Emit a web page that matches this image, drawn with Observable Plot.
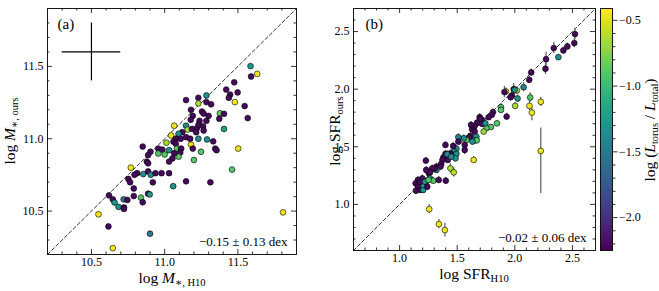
<!DOCTYPE html>
<html><head><meta charset="utf-8">
<script src="https://cdn.jsdelivr.net/npm/d3@7"></script>
<script src="https://cdn.jsdelivr.net/npm/@observablehq/plot@0.6"></script>
<style>
body{margin:0;background:#fff;}
#wrap{position:relative;width:659px;height:291px;font-family:"Liberation Serif","DejaVu Serif",serif;}
#wrap svg{position:absolute;top:0;overflow:visible;font-family:"Liberation Serif","DejaVu Serif",serif !important;}
#wrap svg text{font-family:"Liberation Serif","DejaVu Serif",serif !important;}
</style></head><body><div id="wrap"></div>
<script>
// ---------- data ----------
// panel (a): log M*,H10 vs log M*,ours, colour = log(Ltorus/Ltotal)
const aX = [11.586,11.632,11.59,11.475,11.498,11.42,11.447,11.438,11.285,11.23,11.146,11.23,11.285,11.317,11.479,11.546,11.567,11.18,11.255,11.266,11.377,11.405,11.373,11.192,11.3,11.178,11.238,11.285,11.405,11.065,11.146,11.157,11.187,11.22,11.231,11.262,11.266,11.215,11.12,11.095,11.044,11.076,11.109,11.012,11.06,11.146,11.174,11.23,11.289,11.331,11.345,11.354,11.502,10.85,10.956,10.984,10.956,11.0,11.03,11.076,11.083,11.113,11.106,11.095,11.18,11.192,11.248,11.2,11.053,11.065,10.903,10.887,10.878,10.887,11.03,10.769,10.812,10.794,10.854,10.887,10.905,10.937,10.979,11.03,10.919,10.752,10.764,11.058,11.146,11.312,11.46,10.789,10.887,10.898,10.62,10.646,10.658,10.685,10.72,10.745,10.722,10.722,10.789,10.838,10.85,10.548,10.616,10.9,10.646,11.808];
const aY = [11.502,11.448,11.43,11.39,11.32,11.34,11.305,11.283,11.299,11.283,11.267,11.244,11.253,11.238,11.253,11.226,11.143,11.2,11.188,11.174,11.176,11.172,11.138,11.158,11.158,11.131,11.124,11.124,11.068,11.09,11.09,11.063,11.068,11.072,11.097,11.086,11.057,11.045,11.045,11.034,11.023,11.0,11.0,10.973,10.98,11.011,11.0,11.0,10.995,10.982,10.932,10.921,10.932,10.946,10.932,10.925,10.898,10.891,10.921,10.966,10.932,10.932,10.905,10.876,10.959,10.932,10.91,10.853,10.864,10.9,10.91,10.887,10.842,10.83,10.842,10.8,10.762,10.751,10.756,10.774,10.751,10.762,10.762,10.762,10.699,10.722,10.699,10.672,10.706,10.699,10.787,10.656,10.62,10.615,10.609,10.581,10.559,10.529,10.581,10.577,10.525,10.515,10.604,10.593,10.561,10.478,10.394,10.344,10.244,10.491];
const aC = [-1.3,-0.45,-2.2,-2.2,-2.2,-2.2,-2.2,-2.2,-1.35,-2.2,-2.2,-0.65,-2.2,-2.2,-0.45,-2.2,-2.2,-2.2,-2.2,-2.2,-0.85,-2.2,-2.2,-2.2,-2.2,-2.2,-2.2,-2.2,-1.2,-0.45,-1.35,-0.65,-2.2,-2.2,-2.2,-2.2,-2.2,-2.2,-2.2,-1.35,-0.45,-2.2,-2.2,-0.65,-2.2,-2.2,-2.2,-1.35,-1.35,-2.2,-2.2,-2.2,-0.45,-2.2,-2.2,-2.2,-0.9,-0.9,-1.35,-2.2,-0.9,-2.2,-2.2,-0.9,-0.45,-2.2,-0.9,-0.9,-2.2,-2.2,-2.2,-2.2,-2.2,-2.2,-2.2,-0.45,-2.2,-2.2,-1.35,-2.2,-1.35,-2.2,-2.2,-2.2,-2.2,-2.2,-2.2,-1.3,-2.2,-2.2,-0.9,-2.2,-2.2,-1.3,-2.2,-2.2,-1.3,-1.35,-1.5,-2.2,-2.2,-2.2,-2.2,-0.9,-2.2,-0.45,-2.2,-1.5,-0.45,-0.45];
// representative error cross of panel (a)
const crossA = [{x: 10.5, y: 11.6, e: 0.2}];

// panel (b): log SFR_H10 vs log SFR_ours with errors
const bX = [2.522,2.516,2.456,2.421,2.338,2.378,2.271,2.266,2.142,2.125,2.076,1.99,1.923,1.91,2.018,1.998,2.024,1.975,1.963,2.133,2.225,2.003,2.127,2.148,1.929,1.88,1.88,1.81,1.80,1.845,1.793,1.753,1.73,1.715,1.695,1.672,1.715,1.744,1.649,1.629,1.652,1.614,1.6,1.666,1.58,1.557,1.51,1.51,1.649,1.67,1.632,1.565,1.565,1.493,1.398,1.465,1.47,1.493,1.485,1.441,1.427,1.398,1.381,1.418,1.413,1.447,1.372,1.361,1.32,1.355,1.32,1.305,1.283,1.254,1.231,1.228,1.265,1.263,1.292,1.34,1.234,1.197,1.159,1.139,1.159,1.142,1.182,1.205,1.205,1.176,1.22,1.24,1.251,1.401,1.441,1.47,1.643,1.257,1.341,1.393,2.225,1.773,1.70,1.62];
const bY = [2.478,2.40,2.371,2.336,2.357,2.278,2.26,2.177,2.145,2.081,2.017,2.0,1.98,1.975,1.988,1.994,1.919,1.945,1.93,1.928,1.89,1.855,1.855,1.797,1.762,1.843,1.82,1.8,1.777,1.704,1.672,1.661,1.632,1.733,1.757,1.71,1.699,1.704,1.675,1.652,1.632,1.594,1.58,1.588,1.559,1.574,1.583,1.545,1.554,1.556,1.545,1.516,1.472,1.484,1.516,1.507,1.458,1.438,1.4,1.443,1.414,1.438,1.409,1.386,1.435,1.414,1.386,1.351,1.328,1.328,1.299,1.31,1.313,1.27,1.299,1.38,1.28,1.226,1.206,1.212,1.203,1.226,1.212,1.183,1.154,1.119,1.125,1.125,1.168,1.194,1.197,1.154,1.212,1.206,1.313,1.278,1.386,0.959,0.829,0.777,1.464,1.757,1.745,1.69];
const bC = [-2.2,-2.2,-2.2,-2.2,-2.2,-1.35,-2.2,-2.2,-2.2,-2.2,-1.45,-2.2,-0.45,-2.2,-0.65,-1.35,-1.35,-2.2,-2.2,-0.9,-0.45,-0.65,-0.45,-0.45,-2.2,-0.9,-0.9,-2.2,-2.2,-0.9,-0.9,-0.9,-0.7,-2.2,-2.2,-2.2,-2.2,-1.35,-2.2,-2.2,-2.2,-2.2,-2.2,-1.35,-0.85,-1.35,-1.45,-2.2,-0.9,-0.9,-1.35,-2.2,-2.2,-1.35,-2.2,-2.2,-1.35,-1.35,-1.3,-2.2,-2.2,-2.2,-2.2,-2.2,-1.35,-1.35,-2.2,-2.2,-2.2,-2.2,-1.3,-2.2,-2.2,-2.2,-2.2,-2.2,-2.2,-1.3,-0.9,-2.2,-2.2,-2.2,-2.2,-2.2,-2.2,-2.2,-2.2,-1.3,-1.2,-2.2,-1.3,-2.2,-0.9,-2.2,-0.65,-0.6,-0.45,-0.45,-0.45,-0.45,-0.45,-2.2,-2.2,-2.2];
const bErrLo = [0.05,0.04,0.03,0.03,0.05,0.02,0.06,0.05,0.03,0.03,0.04,0.05,0.03,0.05,0.03,0.03,0.03,0.03,0.03,0.04,0.04,0.03,0.04,0.07,0.03,0.03,0.03,0.03,0.03,0.02,0.02,0.02,0.02,0.03,0.03,0.03,0.03,0.03,0.03,0.03,0.03,0.03,0.03,0.03,0.03,0.03,0.03,0.03,0.03,0.03,0.03,0.03,0.04,0.03,0.03,0.03,0.03,0.03,0.03,0.03,0.03,0.03,0.03,0.03,0.03,0.03,0.03,0.03,0.03,0.03,0.03,0.03,0.03,0.03,0.03,0.03,0.03,0.03,0.03,0.03,0.03,0.03,0.03,0.03,0.03,0.03,0.03,0.03,0.03,0.03,0.03,0.03,0.03,0.03,0.04,0.04,0.03,0.04,0.04,0.06,0.37,0.03,0.03,0.03];
const bErrHi = [0.05,0.04,0.03,0.03,0.05,0.02,0.06,0.05,0.03,0.03,0.04,0.05,0.03,0.05,0.03,0.03,0.03,0.03,0.03,0.04,0.04,0.03,0.04,0.04,0.03,0.03,0.03,0.03,0.03,0.02,0.02,0.02,0.02,0.03,0.03,0.03,0.03,0.03,0.03,0.03,0.03,0.03,0.03,0.03,0.03,0.03,0.03,0.03,0.03,0.03,0.03,0.03,0.04,0.03,0.03,0.03,0.03,0.03,0.03,0.03,0.03,0.03,0.03,0.03,0.03,0.03,0.03,0.03,0.03,0.03,0.03,0.03,0.03,0.03,0.03,0.03,0.03,0.03,0.03,0.03,0.03,0.03,0.03,0.03,0.03,0.03,0.03,0.03,0.03,0.03,0.03,0.03,0.03,0.03,0.04,0.04,0.03,0.04,0.04,0.06,0.20,0.03,0.03,0.03];

// axis limits, ticks and stats labels
const domA = [10.2, 11.9];
const domB = [0.6, 2.7];
const domC = [-2.25, -0.41];
const majA = [10.5, 11.0, 11.5];
const minA = [10.3,10.4,10.6,10.7,10.8,10.9,11.1,11.2,11.3,11.4,11.6,11.7,11.8];
const majB = [1.0, 1.5, 2.0, 2.5];
const minB = [0.7,0.8,0.9,1.1,1.2,1.3,1.4,1.6,1.7,1.8,1.9,2.1,2.2,2.3,2.4,2.6];
const majC = [-2.0, -1.5, -1.0, -0.5];
const minC = [-2.2,-2.1,-1.9,-1.8,-1.7,-1.6,-1.4,-1.3,-1.2,-1.1,-0.9,-0.8,-0.7,-0.6];
const statA = "\u22120.15 \u00b1 0.13 dex";
const statB = "\u22120.02 \u00b1 0.06 dex";

// ---------- build ----------
const dataA = aX.map((x, i) => ({x, y: aY[i], c: aC[i]}));
const dataB = bX.map((x, i) => ({x, y: bY[i], c: bC[i], lo: bErrLo[i], hi: bErrHi[i]}));
const fmt = d3.format(".1f");
const FONT = "'Liberation Serif', 'DejaVu Serif', serif";
const colorOpt = {type: "linear", scheme: "viridis", domain: domC};
const wrap = document.getElementById("wrap");

function inTicks(maj, min, fw, fh) {
  const L = 5, l = 2.5, sw = 0.8;
  return [
    Plot.tickX(maj, {x: d => d, insetTop: fh - L, strokeWidth: sw}),
    Plot.tickX(maj, {x: d => d, insetBottom: fh - L, strokeWidth: sw}),
    Plot.tickX(min, {x: d => d, insetTop: fh - l, strokeWidth: sw}),
    Plot.tickX(min, {x: d => d, insetBottom: fh - l, strokeWidth: sw}),
    Plot.tickY(maj, {y: d => d, insetLeft: fw - L, strokeWidth: sw}),
    Plot.tickY(maj, {y: d => d, insetRight: fw - L, strokeWidth: sw}),
    Plot.tickY(min, {y: d => d, insetLeft: fw - l, strokeWidth: sw}),
    Plot.tickY(min, {y: d => d, insetRight: fw - l, strokeWidth: sw})
  ];
}

function mathText(svg, x, y, rot, parts, size) {
  const t = d3.select(svg).append("text")
    .attr("transform", `translate(${x},${y}) rotate(${rot})`)
    .attr("text-anchor", "middle")
    .attr("font-family", FONT)
    .attr("font-size", size)
    .attr("fill", "#000");
  let shifted = false;
  for (const [s, kind] of parts) {
    const sp = t.append("tspan").text(s);
    if (kind === "i") sp.attr("font-style", "italic");
    if (kind === "sub") {
      sp.attr("font-size", size * 0.68).attr("dy", shifted ? 0 : size * 0.22);
      shifted = true;
    } else if (shifted) {
      sp.attr("dy", -size * 0.22);
      shifted = false;
    }
  }
}

const baseStyle = {fontFamily: FONT, fontSize: "12px", background: "transparent", overflow: "visible"};

// panel (a)
const WA = 310, HA = 291, mlA = 47, mrA = 14, mtA = 8, mbA = 37;
const svgA = Plot.plot({
  width: WA, height: HA, marginLeft: mlA, marginRight: mrA, marginTop: mtA, marginBottom: mbA,
  style: baseStyle,
  x: {domain: domA}, y: {domain: domA}, color: colorOpt,
  marks: [
    Plot.line(domA, {x: d => d, y: d => d, stroke: "#000", strokeWidth: 0.8, strokeDasharray: "3.5,2.5"}),
    Plot.ruleY(crossA, {y: "y", x1: d => d.x - d.e, x2: d => d.x + d.e, stroke: "#000", strokeWidth: 1.2}),
    Plot.ruleX(crossA, {x: "x", y1: d => d.y - d.e, y2: d => d.y + d.e, stroke: "#000", strokeWidth: 1.2}),
    Plot.dot(dataA, {x: "x", y: "y", fill: "c", r: 2.9, stroke: "#000", strokeWidth: 0.6}),
    ...inTicks(majA, minA, WA - mlA - mrA, HA - mtA - mbA),
    Plot.frame({stroke: "#000", strokeWidth: 0.9}),
    Plot.axisX({ticks: majA, tickSize: 0, tickPadding: 3, tickFormat: fmt, label: null, fontSize: 12, fontFamily: FONT}),
    Plot.axisY({ticks: majA, tickSize: 0, tickPadding: 4, tickFormat: fmt, label: null, fontSize: 12, fontFamily: FONT}),
    Plot.text(["(a)"], {frameAnchor: "top-left", dx: 10, dy: 10, fontSize: 15, textAnchor: "start", fontFamily: FONT}),
    Plot.text([statA], {frameAnchor: "bottom-right", dx: -9, dy: -9, fontSize: 13, textAnchor: "end", fontFamily: FONT})
  ]
});
svgA.style.left = "0px";
wrap.appendChild(svgA);
mathText(svgA, 15, 131, -90, [["log ", ""], ["M", "i"], ["\u2217, ours", "sub"]], 15.5);
mathText(svgA, 172, 283, 0, [["log ", ""], ["M", "i"], ["\u2217, H10", "sub"]], 15.5);

// panel (b)
const WB = 300, HB = 291, mlB = 43, mrB = 15, mtB = 8, mbB = 41, offB = 310;
const svgB = Plot.plot({
  width: WB, height: HB, marginLeft: mlB, marginRight: mrB, marginTop: mtB, marginBottom: mbB,
  style: baseStyle,
  x: {domain: domB}, y: {domain: domB}, color: colorOpt,
  marks: [
    Plot.line(domB, {x: d => d, y: d => d, stroke: "#000", strokeWidth: 0.8, strokeDasharray: "3.5,2.5"}),
    Plot.ruleX(dataB, {x: "x", y1: d => d.y - d.lo, y2: d => d.y + d.hi, stroke: "#6a6a6a", strokeWidth: 1.3}),
    Plot.dot(dataB, {x: "x", y: "y", fill: "c", r: 2.9, stroke: "#000", strokeWidth: 0.6}),
    ...inTicks(majB, minB, WB - mlB - mrB, HB - mtB - mbB),
    Plot.frame({stroke: "#000", strokeWidth: 0.9}),
    Plot.axisX({ticks: majB, tickSize: 0, tickPadding: 3, tickFormat: fmt, label: null, fontSize: 12, fontFamily: FONT}),
    Plot.axisY({ticks: majB, tickSize: 0, tickPadding: 4, tickFormat: fmt, label: null, fontSize: 12, fontFamily: FONT}),
    Plot.text(["(b)"], {frameAnchor: "top-left", dx: 12, dy: 10, fontSize: 15, textAnchor: "start", fontFamily: FONT}),
    Plot.text([statB], {frameAnchor: "bottom-right", dx: -9, dy: -9, fontSize: 13, textAnchor: "end", fontFamily: FONT})
  ]
});
svgB.style.left = offB + "px";
wrap.appendChild(svgB);
mathText(svgB, 340 - offB, 131, -90, [["log SFR", ""], ["ours", "sub"]], 15.5);
mathText(svgB, 474 - offB, 279, 0, [["log SFR", ""], ["H10", "sub"]], 15.5);

// colour bar
const WC = 69, HC = 291, mlC = 10, mrC = 47, mtC = 8, mbC = 41, offC = 590;
const svgC = Plot.plot({
  width: WC, height: HC, marginLeft: mlC, marginRight: mrC, marginTop: mtC, marginBottom: mbC,
  style: baseStyle,
  x: {domain: [0, 1], axis: null}, y: {domain: domC}, color: colorOpt,
  marks: [
    Plot.raster({fill: (x, y) => y, x1: 0, x2: 1, y1: domC[0], y2: domC[1], pixelSize: 1}),
    Plot.frame({stroke: "#000", strokeWidth: 0.9}),
    Plot.axisY({anchor: "right", ticks: minC, tickSize: 2.5, tickFormat: () => "", label: null, strokeWidth: 0.8}),
    Plot.axisY({anchor: "right", ticks: majC, tickSize: 4.5, tickPadding: 2, tickFormat: fmt, label: null, fontSize: 12, fontFamily: FONT, strokeWidth: 0.8})
  ]
});
svgC.style.left = offC + "px";
wrap.appendChild(svgC);
mathText(svgC, 655 - offC, 130, -90, [["log (", ""], ["L", "i"], ["torus", "sub"], [" / ", ""], ["L", "i"], ["total", "sub"], [")", ""]], 15.5);
</script></body></html>
